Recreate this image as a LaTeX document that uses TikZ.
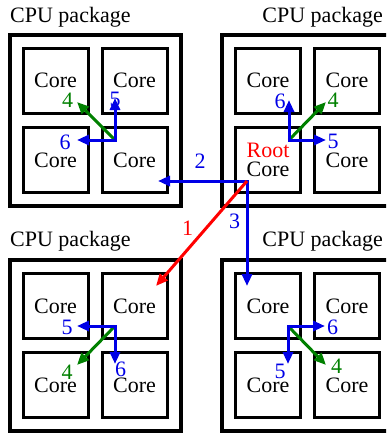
\documentclass[tikz,border=0pt]{standalone}
\usepackage{fontspec}
\setmainfont{Liberation Serif}
\usetikzlibrary{arrows.meta}
\definecolor{ablue}{RGB}{0,0,230}
\definecolor{agreen}{RGB}{0,128,0}
\definecolor{ared}{RGB}{255,0,0}
\begin{document}
\begin{tikzpicture}[x=1pt,y=-1pt,
  corebox/.style={draw, line width=3pt, minimum size=65pt, inner sep=0pt, align=center, font=\fontsize{22}{18.5}\selectfont},
  pkgbox/.style={draw, line width=3.5pt, minimum size=171pt, inner sep=0pt},
  pkglabel/.style={inner sep=0pt, font=\fontsize{22}{26}\selectfont},
  lbl/.style={inner sep=0pt, font=\fontsize{22}{26}\selectfont},
  tip/.style={Triangle[length=12pt,width=10pt]},
  arr/.style={line width=3pt, -{Triangle[length=12pt,width=10pt]}},
  dblarr/.style={line width=3pt, {Triangle[length=12pt,width=10pt]}-{Triangle[length=12pt,width=10pt]}},
]
\useasboundingbox (0,0) rectangle (386,434);
\clip (0,0) rectangle (386,434);

% package labels
\node[pkglabel, anchor=base west] (lA) at (10,22) {CPU package};
\node[pkglabel, anchor=base east] (lB) at (383,22) {CPU package};
\node[pkglabel, anchor=base west] (lC) at (10,246) {CPU package};
\node[pkglabel, anchor=base east] (lD) at (383,246) {CPU package};

% packages
\node[pkgbox] (A) at (95.5,120.5) {};
\node[pkgbox] (B) at (307.5,120.5) {};
\node[pkgbox] (C) at (95.5,345.5) {};
\node[pkgbox] (D) at (307.5,345.5) {};

% cores
\node[corebox] (A1) at (55.5,80.5) {Core};
\node[corebox] (A2) at (134.5,80.5) {Core};
\node[corebox] (A3) at (55.5,160) {Core};
\node[corebox] (A4) at (134.5,160) {Core};

\node[corebox] (B1) at (268,80.5) {Core};
\node[corebox] (B2) at (347,80.5) {Core};
\node[corebox] (B3) at (268,160) {\textcolor{ared}{Root}\\Core};
\node[corebox] (B4) at (347,160) {Core};

\node[corebox] (C1) at (55.5,306) {Core};
\node[corebox] (C2) at (134.5,306) {Core};
\node[corebox] (C3) at (55.5,385) {Core};
\node[corebox] (C4) at (134.5,385) {Core};

\node[corebox] (D1) at (268,306) {Core};
\node[corebox] (D2) at (347,306) {Core};
\node[corebox] (D3) at (268,385) {Core};
\node[corebox] (D4) at (347,385) {Core};

% origins and tips
\coordinate (oA) at (115,140);
\coordinate (oB) at (289,140);
\coordinate (oC) at (115,326);
\coordinate (oD) at (288,326);
\coordinate (oR) at (247,181);

\coordinate (tA5) at (115,98);
\coordinate (tA6) at (77,140);
\coordinate (tA4) at (77,102);
\coordinate (tB6) at (289,100);
\coordinate (tB5) at (326,140);
\coordinate (tB4) at (326,102);
\coordinate (tC5) at (77,326);
\coordinate (tC6) at (115,364);
\coordinate (tC4) at (77,365);
\coordinate (tD6) at (325,326);
\coordinate (tD5) at (288,364);
\coordinate (tD4) at (326,365);
\coordinate (t2) at (158,181);
\coordinate (t3) at (247,286);
\coordinate (t1) at (156,286);

% labels
\node[lbl, text=agreen] (nA4) at (67.5,100) {4};
\node[lbl, text=ablue] (nA5) at (115,99.5) {5};
\node[lbl, text=ablue] (nA6) at (65,142) {6};
\node[lbl, text=ablue] (nB6) at (280,101) {6};
\node[lbl, text=ablue] (nB5) at (333,141.5) {5};
\node[lbl, text=agreen] (nB4) at (333,100) {4};
\node[lbl, text=ablue] (nC5) at (67,327) {5};
\node[lbl, text=ablue] (nC6) at (120.5,369.5) {6};
\node[lbl, text=agreen] (nC4) at (67,372) {4};
\node[lbl, text=ablue] (nD6) at (332.5,327.5) {6};
\node[lbl, text=ablue] (nD5) at (280,371.5) {5};
\node[lbl, text=agreen] (nD4) at (336.5,366) {4};
\node[lbl, text=ablue] (n2) at (200,161) {2};
\node[lbl, text=ablue] (n3) at (234.5,221.5) {3};
\node[lbl, text=ared] (n1) at (187.5,228.5) {1};

% local trees
\draw[arr, agreen] (oA) -- (tA4);
\draw[dblarr, ablue] (tA5) -- (oA) -- (tA6);
\draw[arr, agreen] (oB) -- (tB4);
\draw[dblarr, ablue] (tB6) -- (oB) -- (tB5);
\draw[arr, agreen] (oC) -- (tC4);
\draw[dblarr, ablue] (tC5) -- (oC) -- (tC6);
\draw[arr, agreen] (oD) -- (tD4);
\draw[dblarr, ablue] (tD6) -- (oD) -- (tD5);

% inter-package tree
\draw[dblarr, ablue] (t2) -- (oR) -- (t3);
\draw[arr, ared] (oR) -- (t1);
\end{tikzpicture}
\end{document}
